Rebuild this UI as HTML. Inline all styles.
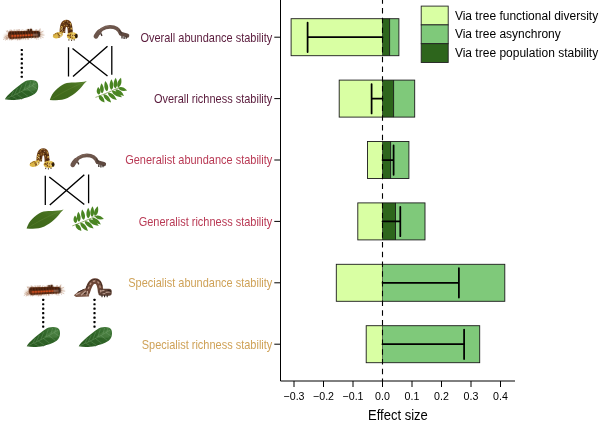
<!DOCTYPE html>
<html><head><meta charset="utf-8"><title>Effect size</title>
<style>html,body{margin:0;padding:0;background:#fff}svg{display:block}text{font-family:"Liberation Sans",Arial,Helvetica,sans-serif;opacity:0.999}</style></head>
<body>
<svg width="600" height="426" viewBox="0 0 600 426">
<rect width="600" height="426" fill="#fff"/>
<defs>
<filter id="b03" x="-20%" y="-20%" width="140%" height="140%"><feGaussianBlur stdDeviation="0.3"/></filter>
<filter id="b12" x="-30%" y="-60%" width="160%" height="220%"><feGaussianBlur stdDeviation="1.1"/></filter>
<linearGradient id="lf1" x1="0" y1="1" x2="1" y2="0"><stop offset="0" stop-color="#2b5a22"/><stop offset="0.55" stop-color="#2f6428"/><stop offset="1" stop-color="#447c3c"/></linearGradient>
<linearGradient id="lf2" x1="0" y1="1" x2="1" y2="0"><stop offset="0" stop-color="#3d671b"/><stop offset="0.6" stop-color="#446d1e"/><stop offset="1" stop-color="#57812d"/></linearGradient>
<g id="cat1">
<ellipse cx="23.5" cy="35" rx="19.5" ry="3.4" fill="#b98a68" opacity="0.5" filter="url(#b12)" transform="rotate(-4 23.5 35)"/>
<g transform="rotate(-1 24 34.5)">
<path d="M17.3 32L16.3 29.3M24.8 32L24.8 30.4M7.3 32L6.3 30.4M20.9 37L20.2 38.7M28.0 37L27.7 39.5M40.2 32L39.7 29.0M11.0 32L11.8 29.9M12.3 37L12.0 39.7M25.2 32L24.5 30.4M29.8 32L30.0 29.9M21.9 32L22.3 29.1M14.5 37L15.4 39.4M31.5 32L30.6 28.7M20.6 37L20.6 38.8M7.4 37L7.5 39.9M36.6 32L36.9 29.2M26.3 32L27.4 29.0M22.6 37L23.1 38.6M28.6 37L28.1 40.0M19.5 37L19.4 38.5M11.9 32L12.5 30.4M10.5 32L11.4 29.8M8.8 32L9.7 29.5M34.7 37L34.5 39.0M18.6 37L17.7 40.2M12.2 32L12.1 30.1M26.6 32L26.4 30.5M18.9 37L19.4 40.2M24.0 37L23.0 39.7M37.5 37L38.2 40.1M19.7 32L20.1 30.3M8.2 32L7.4 30.1M17.9 32L17.1 30.5M9.6 32L10.4 30.5M27.5 32L27.1 30.0M18.7 32L19.9 29.0M22.3 32L21.4 30.3M18.0 32L17.2 29.0M6.8 37L6.0 39.5M25.0 32L26.2 29.5M36.2 37L35.9 39.0M11.8 37L12.5 39.5M17.5 32L18.7 29.0M35.8 37L36.4 40.0M13.9 37L12.8 39.1M7.0 32L7.4 30.0M39.5 32L40.6 28.8M39.4 32L38.8 30.1M12.9 32L13.8 29.4M35.4 32L36.1 29.3M9.0 37L9.6 40.1M32.3 32L32.9 30.2M17.6 37L17.4 40.2M20.0 37L19.3 39.8M10.4 32L11.2 28.9M11.1 37L11.5 40.3M18.3 37L17.1 38.7M40.0 37L41.0 39.4M21.2 37L20.5 40.0M14.8 32L15.0 30.1M15.1 32L16.1 30.3M18.4 32L19.4 29.4M20.7 37L20.8 39.4M24.3 32L23.6 29.7M6.1 37L6.1 38.8M31.4 37L31.4 39.1M25.4 37L25.6 38.7M14.7 32L14.7 29.1M25.7 37L25.5 40.1M27.4 37L27.9 39.4" stroke="#8a4a26" stroke-width="0.5" opacity="0.5" fill="none"/>
<path d="M8 35L3.5 37.5M8 36.5L3 39.3M8.5 37.5L5 40M40 33L43.5 31.5M40 35L44.5 35.5M40 36.5L43.5 38" stroke="#a26a44" stroke-width="0.6" opacity="0.6" fill="none"/>
<g filter="url(#b03)">
<path d="M8 33.5C8 31.8 9.2 31 11 31H38C39.5 31.3 40.2 32.3 40.2 34.5C40.2 36.6 39.5 37.3 38 37.6L11 38.8C9 38.8 8 37.5 8 35.5Z" fill="#6a3317"/>
<ellipse cx="10.30" cy="32.7" rx="1.05" ry="1.5" fill="#3e1c0b"/>
<ellipse cx="13.05" cy="32.7" rx="1.05" ry="1.5" fill="#3e1c0b"/>
<ellipse cx="15.80" cy="32.7" rx="1.05" ry="1.5" fill="#3e1c0b"/>
<ellipse cx="18.55" cy="32.7" rx="1.05" ry="1.5" fill="#3e1c0b"/>
<ellipse cx="21.30" cy="32.7" rx="1.05" ry="1.5" fill="#3e1c0b"/>
<ellipse cx="24.05" cy="32.7" rx="1.05" ry="1.5" fill="#3e1c0b"/>
<ellipse cx="26.80" cy="32.7" rx="1.05" ry="1.5" fill="#3e1c0b"/>
<ellipse cx="29.55" cy="32.7" rx="1.05" ry="1.5" fill="#3e1c0b"/>
<ellipse cx="32.30" cy="32.7" rx="1.05" ry="1.5" fill="#3e1c0b"/>
<ellipse cx="35.05" cy="32.7" rx="1.05" ry="1.5" fill="#3e1c0b"/>
<ellipse cx="37.80" cy="32.7" rx="1.05" ry="1.5" fill="#3e1c0b"/>
<path d="M12 35.9L34 35" stroke="#d8501f" stroke-width="1.6" stroke-linecap="round" fill="none"/>
<rect x="13.40" y="34" width="0.7" height="3" fill="#4a2210" opacity="0.85"/>
<rect x="16.15" y="34" width="0.7" height="3" fill="#4a2210" opacity="0.85"/>
<rect x="18.90" y="34" width="0.7" height="3" fill="#4a2210" opacity="0.85"/>
<rect x="21.65" y="34" width="0.7" height="3" fill="#4a2210" opacity="0.85"/>
<rect x="24.40" y="34" width="0.7" height="3" fill="#4a2210" opacity="0.85"/>
<rect x="27.15" y="34" width="0.7" height="3" fill="#4a2210" opacity="0.85"/>
<rect x="29.90" y="34" width="0.7" height="3" fill="#4a2210" opacity="0.85"/>
<rect x="32.65" y="34" width="0.7" height="3" fill="#4a2210" opacity="0.85"/>
<rect x="35.40" y="34" width="0.7" height="3" fill="#4a2210" opacity="0.85"/>
<path d="M10 38L38.5 37" stroke="#3e1d0d" stroke-width="1.3" stroke-dasharray="1.3 1.45" fill="none"/>
<rect x="27.4" y="28.9" width="2.2" height="3.2" rx="0.8" fill="#4a2210"/><rect x="30" y="28.7" width="2.2" height="3.4" rx="0.8" fill="#4a2210"/>
<rect x="32.8" y="34" width="5.5" height="2.2" fill="#8a6a5a" opacity="0.75"/>
<rect x="37.7" y="32" width="2.5" height="5.2" rx="1" fill="#3a2a24" opacity="0.8"/>
</g></g></g>
<g id="cat2"><g filter="url(#b03)">
<path d="M59.6 33C59.6 24.5 61.3 19.7 66.5 19.7C71.6 19.7 72.7 24.5 72.7 33.5L67.8 33.5C67.8 29.5 67.5 26.7 66.5 26.7C65.6 26.7 65.3 29.5 65.3 33Z" fill="#6a3c18"/>
<ellipse cx="57.9" cy="35.2" rx="5.3" ry="2.9" transform="rotate(-18 57.9 35.2)" fill="#dcb646"/>
<ellipse cx="72.2" cy="35.9" rx="5.4" ry="3.7" fill="#dcb646"/>
<ellipse cx="76.3" cy="36" rx="1.4" ry="2.3" fill="#2a1a0c"/>
<circle cx="61.7" cy="26.2" r="0.74" fill="#e2bf55"/>
<circle cx="60.3" cy="30.0" r="0.59" fill="#e2bf55"/>
<circle cx="68.5" cy="27.5" r="0.47" fill="#e2bf55"/>
<circle cx="65.6" cy="23.1" r="0.46" fill="#e2bf55"/>
<circle cx="71.2" cy="28.7" r="0.71" fill="#e2bf55"/>
<circle cx="63.6" cy="22.5" r="0.46" fill="#e2bf55"/>
<circle cx="70.1" cy="24.7" r="0.66" fill="#e2bf55"/>
<circle cx="67.1" cy="25.3" r="0.62" fill="#e2bf55"/>
<circle cx="61.8" cy="29.0" r="0.54" fill="#e2bf55"/>
<circle cx="60.9" cy="27.9" r="0.69" fill="#e2bf55"/>
<circle cx="63.4" cy="31.0" r="0.46" fill="#e2bf55"/>
<circle cx="62.1" cy="24.6" r="0.49" fill="#e2bf55"/>
<circle cx="71.4" cy="27.8" r="0.59" fill="#e2bf55"/>
<circle cx="60.5" cy="32.4" r="0.46" fill="#e2bf55"/>
<circle cx="70.2" cy="23.8" r="0.70" fill="#e2bf55"/>
<circle cx="62.5" cy="27.3" r="0.52" fill="#e2bf55"/>
<circle cx="64.4" cy="25.4" r="0.49" fill="#e2bf55"/>
<circle cx="69.7" cy="31.7" r="0.46" fill="#e2bf55"/>
<circle cx="61.9" cy="31.9" r="0.64" fill="#e2bf55"/>
<circle cx="65.1" cy="20.8" r="0.58" fill="#e2bf55"/>
<circle cx="62.5" cy="28.7" r="0.44" fill="#f2e4b0"/>
<circle cx="62.7" cy="30.2" r="0.45" fill="#f2e4b0"/>
<circle cx="67.6" cy="23.3" r="0.47" fill="#f2e4b0"/>
<circle cx="61.5" cy="28.9" r="0.49" fill="#f2e4b0"/>
<circle cx="67.9" cy="23.1" r="0.45" fill="#f2e4b0"/>
<circle cx="67.3" cy="21.2" r="0.38" fill="#f2e4b0"/>
<circle cx="64.3" cy="31.1" r="0.42" fill="#f2e4b0"/>
<circle cx="69.0" cy="27.1" r="0.38" fill="#f2e4b0"/>
<circle cx="69.2" cy="32.0" r="0.35" fill="#f2e4b0"/>
<circle cx="63.6" cy="32.5" r="0.42" fill="#f2e4b0"/>
<circle cx="69.7" cy="31.2" r="0.63" fill="#3d1f0a"/>
<circle cx="69.7" cy="28.6" r="0.49" fill="#3d1f0a"/>
<circle cx="70.5" cy="31.4" r="0.52" fill="#3d1f0a"/>
<circle cx="64.1" cy="28.4" r="0.54" fill="#3d1f0a"/>
<circle cx="72.1" cy="30.8" r="0.62" fill="#3d1f0a"/>
<circle cx="71.5" cy="26.9" r="0.58" fill="#3d1f0a"/>
<circle cx="68.1" cy="24.5" r="0.60" fill="#3d1f0a"/>
<circle cx="69.6" cy="24.5" r="0.64" fill="#3d1f0a"/>
<circle cx="69.7" cy="27.1" r="0.55" fill="#3d1f0a"/>
<circle cx="66.0" cy="22.5" r="0.65" fill="#3d1f0a"/>
<circle cx="69.1" cy="26.0" r="0.68" fill="#3d1f0a"/>
<circle cx="63.4" cy="28.3" r="0.47" fill="#3d1f0a"/>
<circle cx="63.7" cy="28.2" r="0.68" fill="#3d1f0a"/>
<circle cx="61.9" cy="25.1" r="0.63" fill="#3d1f0a"/>
<circle cx="70.7" cy="31.4" r="0.48" fill="#3d1f0a"/>
<circle cx="67.5" cy="23.6" r="0.56" fill="#3d1f0a"/>
<circle cx="71.1" cy="30.5" r="0.61" fill="#3d1f0a"/>
<circle cx="69.3" cy="31.9" r="0.68" fill="#3d1f0a"/>
<circle cx="65.5" cy="23.1" r="0.54" fill="#3d1f0a"/>
<circle cx="62.1" cy="24.9" r="0.59" fill="#3d1f0a"/>
<circle cx="68.1" cy="25.9" r="0.67" fill="#3d1f0a"/>
<circle cx="63.6" cy="30.4" r="0.65" fill="#3d1f0a"/>
<circle cx="60.8" cy="34.7" r="0.61" fill="#f4e8b8"/>
<circle cx="59.0" cy="37.0" r="0.65" fill="#6b3c12"/>
<circle cx="55.4" cy="33.8" r="0.50" fill="#6b3c12"/>
<circle cx="61.6" cy="33.9" r="0.69" fill="#f4e8b8"/>
<circle cx="53.9" cy="34.7" r="0.53" fill="#6b3c12"/>
<circle cx="61.5" cy="34.1" r="0.54" fill="#6b3c12"/>
<circle cx="60.6" cy="35.9" r="0.59" fill="#f4e8b8"/>
<circle cx="58.3" cy="33.7" r="0.46" fill="#6b3c12"/>
<circle cx="58.3" cy="34.7" r="0.65" fill="#6b3c12"/>
<circle cx="59.1" cy="36.3" r="0.65" fill="#f4e8b8"/>
<circle cx="59.0" cy="35.9" r="0.58" fill="#6b3c12"/>
<circle cx="57.2" cy="33.2" r="0.62" fill="#6b3c12"/>
<circle cx="60.9" cy="34.7" r="0.69" fill="#f4e8b8"/>
<circle cx="59.8" cy="35.7" r="0.58" fill="#6b3c12"/>
<circle cx="70.6" cy="38.4" r="0.61" fill="#f4e8b8"/>
<circle cx="67.7" cy="35.5" r="0.59" fill="#6b3c12"/>
<circle cx="70.5" cy="37.6" r="0.66" fill="#6b3c12"/>
<circle cx="73.1" cy="35.1" r="0.66" fill="#f4e8b8"/>
<circle cx="74.5" cy="35.5" r="0.59" fill="#6b3c12"/>
<circle cx="72.4" cy="38.0" r="0.58" fill="#6b3c12"/>
<circle cx="70.9" cy="35.6" r="0.69" fill="#f4e8b8"/>
<circle cx="68.9" cy="35.7" r="0.65" fill="#6b3c12"/>
<circle cx="68.8" cy="35.1" r="0.62" fill="#6b3c12"/>
<circle cx="74.3" cy="36.8" r="0.55" fill="#f4e8b8"/>
<circle cx="75.4" cy="35.1" r="0.52" fill="#6b3c12"/>
<circle cx="70.0" cy="36.1" r="0.56" fill="#6b3c12"/>
<circle cx="73.1" cy="33.3" r="0.57" fill="#f4e8b8"/>
<circle cx="70.7" cy="37.1" r="0.60" fill="#6b3c12"/>
<circle cx="72.8" cy="35.4" r="0.64" fill="#6b3c12"/>
<circle cx="73.3" cy="36.1" r="0.51" fill="#f4e8b8"/>
<circle cx="70.6" cy="34.3" r="0.54" fill="#6b3c12"/>
<circle cx="70.5" cy="35.2" r="0.63" fill="#6b3c12"/>
<path d="M68.9 39.2V40.6M71.6 39.6V41M74.2 39.2V40.5" stroke="#3a2410" stroke-width="0.9"/>
</g></g>
<g id="cat3"><g filter="url(#b03)" fill="none" stroke-linecap="round">
<path d="M96.2 36C98.7 31 104 26.9 110 26.9C115 26.9 119 29.3 120.6 33.6" stroke="#6c554b" stroke-width="3.7"/>
<path d="M95.9 36.4C96.8 34.6 98 33 99.3 31.8" stroke="#6c554b" stroke-width="4.6"/>
<path d="M121 33.6C122.5 34.6 125 34.6 127.3 35.6" stroke="#5f4a41" stroke-width="4"/>
<path d="M100.8 33.4L102 35.9M122 36V38.4M124.1 36.4V39M126.2 36.6V38.8" stroke="#3d2e28" stroke-width="1.3" stroke-linecap="butt"/>
<path d="M99 31C102 28 106 26.2 110 26" stroke="#8a7266" stroke-width="0.8" stroke-dasharray="1.5 1.5"/>
<path d="M119.5 30.5L121.5 33" stroke="#463630" stroke-width="1.2"/>
</g></g>
<g id="cat4"><g filter="url(#b03)" stroke-linecap="round">
<path d="M73.8 295.2L78.5 291.6L85 288.4L89.5 288.8L89 296.6L76 296.9Z" fill="#7e5a49"/>
<path d="M87 293C88.8 287 90.3 281 95 281C99.6 281 100.2 286 100.7 292.5" stroke="#6d4737" stroke-width="5.5" fill="none" stroke-linecap="butt"/>
<rect x="98.3" y="288.8" width="13.4" height="6.9" rx="2.6" fill="#5d4034"/>
<path d="M87 293C88.8 287 90.3 281 95 281C99.6 281 100.2 286 100.7 292.5" stroke="#c4a090" stroke-width="1.4" stroke-dasharray="1.3 3.3" opacity="0.85" fill="none"/>
<path d="M76.5 294.6L80 292.8M81.5 294.8L85.5 291.2M86.8 295L87.4 291.5" stroke="#cdb2a5" stroke-width="1.1" opacity="0.85" fill="none"/>
<path d="M78 292.3L83.5 289.6M84.5 293.5L86.5 293" stroke="#3d2a22" stroke-width="1" fill="none"/>
<path d="M86.5 288C88.3 283.6 90.2 279.5 95 279.4C99 279.4 101 282 101.9 286" stroke="#3d2a22" stroke-width="1" stroke-dasharray="2 1.6" fill="none"/>
<path d="M101 291L104 290.4M106 292.4L110 292M103 293.8L105 293.6" stroke="#b79a8c" stroke-width="1.1" fill="none"/>
<path d="M108 290.2L110.6 291.2M102 295V296.7M104.6 295.2V296.8M107.2 295.2V296.7" stroke="#2f211b" stroke-width="1.1" fill="none"/>
</g></g>
<g id="leaf1"><g filter="url(#b03)">
<path d="M4.9 99.2C6.5 96.5 8.5 94.5 11 92.2C13.5 89.9 16.5 87.4 19.5 85.3C22 83.5 24.5 81.5 27 80.6C29.5 79.7 33 79.7 35.5 80.7C37.7 81.6 38.3 84 38.2 86.5C38.1 89 37.6 90.5 36.3 92.3C34.5 94.3 32 95.8 29.5 96.6C27 97.6 24.5 98.4 21.5 98.9C18.5 99.5 15 99.9 12 99.9C9.5 99.9 7 99.7 4.9 99.2Z" fill="url(#lf1)"/>
<path d="M22 90C26 86 31 83 36 82.5C37.5 85 37 88 35 90.5C31 91 26 91 22 90Z" fill="#5b8f52" opacity="0.45"/>
<path d="M5.5 99C15 95 27 89 36.3 83.2" stroke="#7fa873" stroke-width="0.6" fill="none" opacity="0.6"/>
<path d="M11 96.6L13.5 91M14.5 94.8L17.5 88M19 92.5L22 85M24 90L26.5 82.3M29 87.4L30.8 81M33 85.2L34.3 81M12 96.2L17 99.2M16.5 94L22.5 98.2M21.5 91.4L28 96.4M27 88.5L33.5 93.4M32 85.6L37.3 89" stroke="#8fb885" stroke-width="0.5" fill="none" opacity="0.55"/>
<path d="M10 98L12.5 96.6M13.5 99.6L18 97.4M21 99.5L25.5 96.8" stroke="#20481a" stroke-width="0.7" fill="none" opacity="0.6"/>
</g></g>
<g id="leaf2"><g filter="url(#b03)">
<path d="M49.8 100C51 96 53 93 55.6 90.3C58.5 87.3 61.3 85.3 64.5 83.8C68 82.3 71.5 82.4 75.3 82.4C79.5 82.3 83.5 82 86.8 81C84.8 82.8 83.3 84.8 81.5 87C78.8 90.2 76 92.7 72.6 95C69.3 97.2 66 99 62 99.8C58 100.5 54 100.3 49.8 100Z" fill="url(#lf2)"/>
<path d="M50.5 99.6C60 94 72 87 85 82" stroke="#7b9a44" stroke-width="0.6" fill="none" opacity="0.4"/>
</g></g>
<g id="leaf3"><g filter="url(#b03)">
<path d="M95.5 97.4C101 95.4 108 92.6 119 87.7" stroke="#7d9a50" stroke-width="0.8" fill="none"/>
<g fill="#4a8521">
<path d="M98.90 94.60C100.92 93.26 101.32 90.16 98.20 87.00C95.71 90.68 96.67 93.66 98.90 94.60Z"/>
<path d="M102.20 93.30C104.23 91.65 104.62 87.60 101.50 83.30C99.01 88.00 99.96 91.95 102.20 93.30Z"/>
<path d="M107.00 91.30C108.85 89.41 108.84 85.18 105.30 81.00C103.29 86.09 104.64 90.10 107.00 91.30Z"/>
<path d="M111.50 89.80C113.62 88.19 114.26 83.94 111.40 79.20C108.63 84.00 109.35 88.23 111.50 89.80Z"/>
<path d="M115.20 88.40C117.41 86.91 118.28 82.70 115.70 77.80C112.67 82.44 113.14 86.71 115.20 88.40Z"/>
<path d="M118.00 87.40C120.49 86.58 122.34 82.90 121.00 77.70C116.96 81.23 116.41 85.31 118.00 87.40Z"/>
<path d="M99.00 95.60C98.08 98.03 99.73 101.23 104.50 102.50C104.32 97.56 101.57 95.24 99.00 95.60Z"/>
<path d="M103.60 94.20C103.07 96.94 105.55 100.73 111.10 102.50C109.90 96.80 106.38 93.95 103.60 94.20Z"/>
<path d="M108.00 92.80C107.89 95.61 110.96 99.08 116.80 100.10C114.72 94.55 110.75 92.18 108.00 92.80Z"/>
<path d="M112.00 91.00C112.31 93.83 115.93 96.95 122.00 97.30C119.07 91.98 114.69 90.06 112.00 91.00Z"/>
<path d="M115.50 89.60C115.45 92.34 118.43 95.42 124.00 95.90C121.92 90.71 118.10 88.75 115.50 89.60Z"/>
<path d="M118.20 87.80C118.91 90.21 122.27 91.96 127.10 90.60C123.92 86.72 120.16 86.23 118.20 87.80Z"/>
</g></g></g>
</defs>
<use href="#cat1"/><use href="#cat2"/><use href="#cat3"/>
<use href="#leaf1"/><use href="#leaf2"/><use href="#leaf3"/>
<g id="dots1" fill="#000"><rect x="20.7" y="48.90" width="2.2" height="2.2" rx="0.6"/><rect x="20.7" y="53.36" width="2.2" height="2.2" rx="0.6"/><rect x="20.7" y="57.82" width="2.2" height="2.2" rx="0.6"/><rect x="20.7" y="62.28" width="2.2" height="2.2" rx="0.6"/><rect x="20.7" y="66.74" width="2.2" height="2.2" rx="0.6"/><rect x="20.7" y="71.20" width="2.2" height="2.2" rx="0.6"/><rect x="20.7" y="75.66" width="2.2" height="2.2" rx="0.6"/></g>
<g id="net1" stroke="#000" fill="none"><path d="M68.5 47.2V76.5M111.8 46V74.8" stroke-width="1.3"/><path d="M72.5 48.5L107.5 76M107.5 46.2L73 76.5" stroke-width="1.4"/></g>
<g transform="translate(-23.2 128.5)"><use href="#cat2"/><use href="#cat3"/><use href="#leaf2"/><use href="#leaf3"/><use href="#net1"/></g>
<use href="#cat1" transform="translate(20.7 256)"/>
<use href="#cat4"/>
<use href="#dots1" transform="translate(21.4 249.8)"/>
<use href="#dots1" transform="translate(72.7 249.8)"/>
<use href="#leaf1" transform="translate(21.8 247)"/>
<use href="#leaf1" transform="translate(73.8 247)"/>
<g stroke="#1a1a1a" stroke-width="0.9">
<rect x="291.1" y="18.7" width="91.4" height="37.0" fill="#d9ffa3" stroke="none"/>
<rect x="382.5" y="18.7" width="16.4" height="37.0" fill="#7fc97a" stroke="none"/>
<rect x="382.5" y="18.7" width="7.1" height="37.0" fill="#2d651c" stroke="none"/>
<rect x="291.1" y="18.7" width="107.8" height="37.0" fill="none"/>
<line x1="389.6" y1="18.7" x2="389.6" y2="55.7"/>
<line x1="382.5" y1="18.7" x2="382.5" y2="55.7" stroke-width="0.6"/>
<rect x="339.2" y="80.1" width="43.3" height="37.0" fill="#d9ffa3" stroke="none"/>
<rect x="382.5" y="80.1" width="32.2" height="37.0" fill="#7fc97a" stroke="none"/>
<rect x="382.5" y="80.1" width="11.1" height="37.0" fill="#2d651c" stroke="none"/>
<rect x="339.2" y="80.1" width="75.5" height="37.0" fill="none"/>
<line x1="393.6" y1="80.1" x2="393.6" y2="117.1"/>
<line x1="382.5" y1="80.1" x2="382.5" y2="117.1" stroke-width="0.6"/>
<rect x="367.5" y="141.5" width="15.0" height="37.0" fill="#d9ffa3" stroke="none"/>
<rect x="382.5" y="141.5" width="26.4" height="37.0" fill="#7fc97a" stroke="none"/>
<rect x="382.5" y="141.5" width="8.1" height="37.0" fill="#2d651c" stroke="none"/>
<rect x="367.5" y="141.5" width="41.4" height="37.0" fill="none"/>
<line x1="390.6" y1="141.5" x2="390.6" y2="178.5"/>
<line x1="382.5" y1="141.5" x2="382.5" y2="178.5" stroke-width="0.6"/>
<rect x="357.8" y="202.9" width="24.7" height="37.0" fill="#d9ffa3" stroke="none"/>
<rect x="382.5" y="202.9" width="42.5" height="37.0" fill="#7fc97a" stroke="none"/>
<rect x="382.5" y="202.9" width="13.0" height="37.0" fill="#2d651c" stroke="none"/>
<rect x="357.8" y="202.9" width="67.2" height="37.0" fill="none"/>
<line x1="395.5" y1="202.9" x2="395.5" y2="239.9"/>
<line x1="382.5" y1="202.9" x2="382.5" y2="239.9" stroke-width="0.6"/>
<rect x="336.3" y="264.3" width="46.2" height="37.0" fill="#d9ffa3" stroke="none"/>
<rect x="382.5" y="264.3" width="122.3" height="37.0" fill="#7fc97a" stroke="none"/>
<rect x="336.3" y="264.3" width="168.5" height="37.0" fill="none"/>
<line x1="382.5" y1="264.3" x2="382.5" y2="301.3" stroke-width="0.6"/>
<rect x="366.2" y="325.7" width="16.3" height="37.0" fill="#d9ffa3" stroke="none"/>
<rect x="382.5" y="325.7" width="97.2" height="37.0" fill="#7fc97a" stroke="none"/>
<rect x="366.2" y="325.7" width="113.5" height="37.0" fill="none"/>
<line x1="382.5" y1="325.7" x2="382.5" y2="362.7" stroke-width="0.6"/>
</g>
<line x1="382.5" y1="-1.75" x2="382.5" y2="381" stroke="#000" stroke-width="1.1" stroke-dasharray="5.4 4.35"/>
<g stroke="#000" stroke-width="1.75" stroke-linecap="round" fill="none">
<path d="M382.5 37.2H307.6M307.6 22.6V52.0"/>
<path d="M382.5 98.6H371.6M371.6 84.0V113.4"/>
<path d="M382.5 160.0H393.6M393.6 145.4V174.8"/>
<path d="M382.5 221.4H400.3M400.3 206.8V236.2"/>
<path d="M382.5 282.8H458.9M458.9 268.2V297.6"/>
<path d="M382.5 344.2H464.1M464.1 329.6V359.0"/>
</g>
<g stroke="#000" stroke-width="1" fill="none">
<path d="M280.5 0V381H515"/>
<path d="M294.00 381V387"/>
<path d="M323.50 381V387"/>
<path d="M353.00 381V387"/>
<path d="M382.50 381V387"/>
<path d="M412.00 381V387"/>
<path d="M441.50 381V387"/>
<path d="M471.00 381V387"/>
<path d="M500.50 381V387"/>
<path d="M274.3 37.2H280.5"/>
<path d="M274.3 98.6H280.5"/>
<path d="M274.3 160.0H280.5"/>
<path d="M274.3 221.4H280.5"/>
<path d="M274.3 282.8H280.5"/>
<path d="M274.3 344.2H280.5"/>
</g>
<g font-size="11" fill="#000" text-anchor="middle">
<text transform="translate(294.00 399.9) scale(0.97 1)">−0.3</text>
<text transform="translate(323.50 399.9) scale(0.97 1)">−0.2</text>
<text transform="translate(353.00 399.9) scale(0.97 1)">−0.1</text>
<text transform="translate(382.50 399.9) scale(0.97 1)">0.0</text>
<text transform="translate(412.00 399.9) scale(0.97 1)">0.1</text>
<text transform="translate(441.50 399.9) scale(0.97 1)">0.2</text>
<text transform="translate(471.00 399.9) scale(0.97 1)">0.3</text>
<text transform="translate(500.50 399.9) scale(0.97 1)">0.4</text>
</g>
<text transform="translate(397.9 420) scale(0.917 1)" font-size="14.2" text-anchor="middle" fill="#000">Effect size</text>
<g font-size="12" text-anchor="end">
<text transform="translate(272.3 41.5) scale(0.915 1)" fill="#5a1b3c">Overall abundance stability</text>
<text transform="translate(272.3 102.9) scale(0.915 1)" fill="#5a1b3c">Overall richness stability</text>
<text transform="translate(272.3 164.3) scale(0.915 1)" fill="#b93a55">Generalist abundance stability</text>
<text transform="translate(272.3 225.7) scale(0.915 1)" fill="#b93a55">Generalist richness stability</text>
<text transform="translate(272.3 287.1) scale(0.915 1)" fill="#cfa258">Specialist abundance stability</text>
<text transform="translate(272.3 348.5) scale(0.915 1)" fill="#cfa258">Specialist richness stability</text>
</g>
<g stroke="#222" stroke-width="0.9">
<rect x="421.2" y="6.1" width="27" height="18.8" fill="#d9ffa3"/>
<rect x="421.2" y="24.9" width="27" height="18.8" fill="#7fc97a"/>
<rect x="421.2" y="43.7" width="27" height="18.8" fill="#2d651c"/>
</g>
<g font-size="12.9" fill="#000">
<text transform="translate(454.9 19.5) scale(0.932 1)">Via tree functional diversity</text>
<text transform="translate(454.9 38.3) scale(0.932 1)">Via tree asynchrony</text>
<text transform="translate(454.9 57.1) scale(0.932 1)">Via tree population stability</text>
</g>
</svg>
</body></html>
